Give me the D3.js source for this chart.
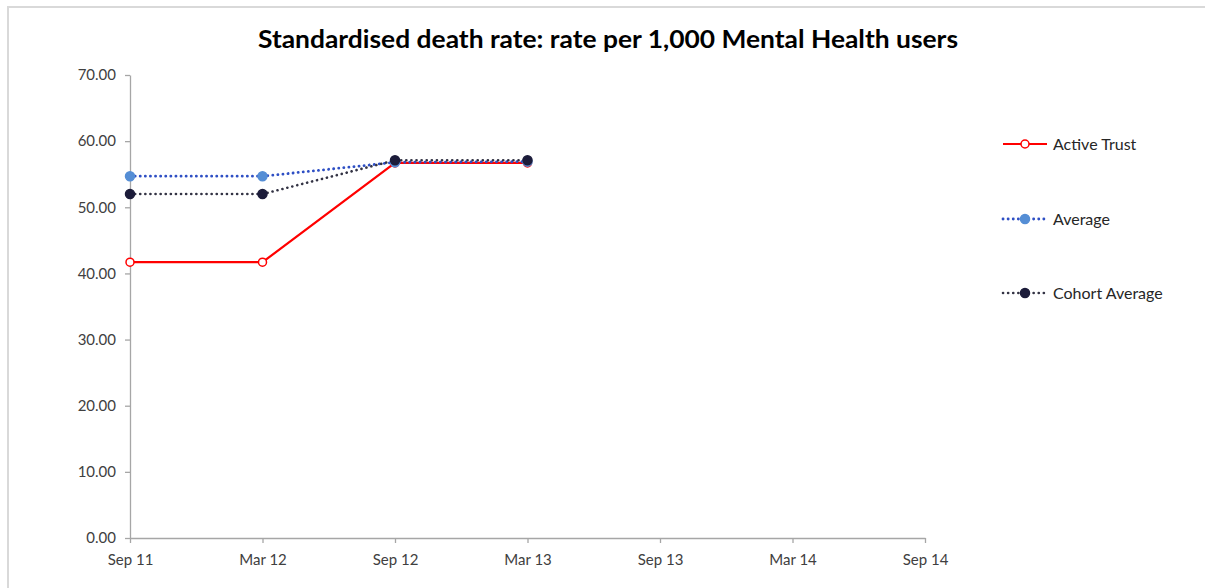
<!DOCTYPE html>
<html><head><meta charset="utf-8">
<script src="https://cdn.jsdelivr.net/npm/d3@7"></script>
<style>
html,body{margin:0;padding:0;background:#fff;}
svg{display:block;}
text{font-family:Lato,"Open Sans",sans-serif;}
</style></head>
<body><svg id="c" width="1205" height="588"></svg>
<script>
const categories = ["Sep 11","Mar 12","Sep 12","Mar 13","Sep 13","Mar 14","Sep 14"];
const activeTrust = [41.7, 41.7, 56.7, 56.7];
const average = [54.7, 54.7, 56.8, 56.9];
const cohortAverage = [52.0, 52.0, 57.1, 57.1];
const yTicks = [0,10,20,30,40,50,60,70];
const seriesNames = ["Active Trust","Average","Cohort Average"];

const svg = d3.select("#c");
// chart border
svg.append("path").attr("d","M8,588 V7 H1205").attr("fill","none").attr("stroke","#d9d9d9").attr("stroke-width",2);

svg.append("text").attr("x",608).attr("y",48).attr("text-anchor","middle")
  .attr("font-size",24).attr("font-weight","bold").attr("fill","#000")
  .attr("textLength",700).attr("lengthAdjust","spacingAndGlyphs")
  .text("Standardised death rate: rate per 1,000 Mental Health users");

const x = d3.scalePoint().domain(categories).range([130,925]);
const y = d3.scaleLinear().domain([0,70]).range([538,75]);

const yAxis = svg.append("g").attr("transform","translate(130,0)")
  .call(d3.axisLeft(y).tickValues(yTicks).tickFormat(d3.format(".2f")).tickSize(5).tickSizeOuter(0));
const xAxis = svg.append("g").attr("transform","translate(0,538)")
  .call(d3.axisBottom(x).tickSize(5).tickSizeOuter(0));
[yAxis,xAxis].forEach(a=>{
  a.selectAll("path,line").attr("stroke","#a6a6a6").attr("stroke-width",1.3);
  a.selectAll("text").attr("fill","#404040").attr("font-size",15).attr("font-family","Lato,sans-serif");
});
yAxis.selectAll("text").attr("dx",-6);
xAxis.selectAll("text").attr("dy","1.25em");

const styles = [
  {data:activeTrust, stroke:"#ff0000", width:2.2, dash:null, fill:"#ffffff", mstroke:"#ff0000", r:4},
  {data:average, stroke:"#2e4fc4", width:2.8, dash:"0.1,5", fill:"#558ed5", mstroke:"#558ed5", r:4.5},
  {data:cohortAverage, stroke:"#333344", width:2.6, dash:"0.1,5", fill:"#1c1c3a", mstroke:"#1c1c3a", r:4.5}
];
const line = d3.line().x((d,i)=>x(categories[i])).y(d=>y(d));
styles.forEach(s=>{
  svg.append("path").datum(s.data).attr("d",line).attr("fill","none")
    .attr("stroke",s.stroke).attr("stroke-width",s.width).attr("stroke-dasharray",s.dash)
    .attr("stroke-linecap",s.dash?"round":"butt");
});
styles.forEach(s=>{
  svg.selectAll(null).data(s.data).enter().append("circle")
    .attr("cx",(d,i)=>x(categories[i])).attr("cy",d=>y(d)).attr("r",s.r)
    .attr("fill",s.fill).attr("stroke",s.mstroke).attr("stroke-width",1.5);
});

// legend
const legY = [144,219,293];
styles.forEach((s,i)=>{
  const g = svg.append("g").attr("transform",`translate(0,${legY[i]})`);
  g.append("line").attr("x1",1003).attr("x2",1047).attr("y1",0).attr("y2",0)
    .attr("stroke",s.stroke).attr("stroke-width",s.width).attr("stroke-dasharray",s.dash)
    .attr("stroke-linecap",s.dash?"round":"butt");
  g.append("circle").attr("cx",1025).attr("cy",0).attr("r",s.r).attr("fill",s.fill)
    .attr("stroke",s.mstroke).attr("stroke-width",1.5);
  g.append("text").attr("x",1053).attr("y",5.5).attr("font-size",16).attr("fill","#262626").text(seriesNames[i]);
});
</script></body></html>
